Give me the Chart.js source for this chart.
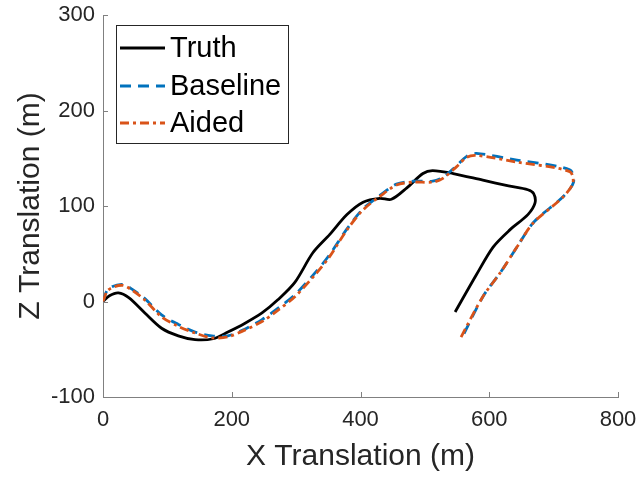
<!DOCTYPE html>
<html>
<head>
<meta charset="utf-8">
<script src="https://cdn.jsdelivr.net/npm/chart.js@4.4.1/dist/chart.umd.min.js"></script>
<style>
  html, body { margin: 0; padding: 0; background: #fff; }
  #wrap { width: 640px; height: 477px; }
</style>
</head>
<body>
<div id="wrap"><canvas id="traj"></canvas></div>
<script>
// Trajectories (metres)
const truthX = [0, 10, 24, 40, 65, 91, 117, 143, 171, 194, 220, 247, 272, 298, 326, 352, 379, 404, 430, 448, 472, 497, 512, 544, 590, 630, 660, 669, 671, 660, 632, 606, 580, 547];
const truthZ = [0, 6, 9, 4, -12, -28, -36, -40, -39, -32, -23, -12, 2, 20, 51, 70, 91, 104, 108, 107, 119, 134, 137, 134, 127, 121, 117, 113, 103, 91, 75, 57, 28, -11];

const baseX = [0, 8, 29, 45, 65, 91, 117, 143, 169, 194, 220, 247, 272, 298, 332, 352, 379, 404, 430, 456, 482, 512, 528, 549, 565, 580, 643, 725, 731, 715, 669, 644, 618, 591, 556];
const baseZ = [0, 13, 18, 13, 3, -14, -24, -32, -36, -36, -29, -19, -7, 7, 32, 49, 76, 97, 111, 123, 126, 126, 130, 142, 152, 155, 148, 138, 125, 110, 83, 58, 31, 6, -40];

const aidedX = [0, 8, 29, 45, 65, 91, 117, 143, 169, 194, 220, 247, 272, 298, 332, 352, 379, 404, 430, 456, 482, 512, 528, 549, 565, 580, 643, 725, 730, 714, 668, 643, 617, 590, 554];
const aidedZ = [0, 12, 17, 12, 1.5, -16, -26, -33, -38, -37, -30, -21, -9, 5, 30, 47, 75, 96, 110, 122, 125, 125, 129, 141, 151, 153, 146, 136, 124, 109, 82, 57, 30, 5, -40];

const xTicks = [0, 200, 400, 600, 800];
const zTicks = [-100, 0, 100, 200, 300];

function toPoints(xs, ys) {
  return xs.map((x, i) => ({ x: x, y: ys[i] }));
}

// MATLAB style ticks pointing into the plot
const innerTicks = {
  id: 'innerTicks',
  afterDraw(chart) {
    const ctx = chart.ctx;
    const xs = chart.scales.x, ys = chart.scales.y;
    ctx.save();
    ctx.strokeStyle = '#808080';
    ctx.lineWidth = 1;
    ctx.beginPath();
    xTicks.forEach(v => {
      const px = Math.round(xs.getPixelForValue(v)) + 0.5;
      ctx.moveTo(px, ys.bottom);
      ctx.lineTo(px, ys.bottom - 5);
    });
    zTicks.forEach(v => {
      const py = Math.round(ys.getPixelForValue(v)) + 0.5;
      ctx.moveTo(xs.left, py);
      ctx.lineTo(xs.left + 5, py);
    });
    ctx.stroke();
    ctx.restore();
  }
};

// legend box in the top left corner
const boxLegend = {
  id: 'boxLegend',
  afterDraw(chart) {
    const ctx = chart.ctx;
    const left = 116, top = 25, w = 172, h = 118;
    ctx.save();
    ctx.fillStyle = '#fff';
    ctx.fillRect(left, top, w, h);
    ctx.strokeStyle = '#262626';
    ctx.lineWidth = 1;
    ctx.strokeRect(left + 0.5, top + 0.5, w, h);
    ctx.font = '29px "Liberation Sans", Arial, sans-serif';
    ctx.textBaseline = 'middle';
    const rows = [48, 86, 123];
    chart.data.datasets.forEach((ds, i) => {
      const y = top + (rows[i] - 25);
      ctx.strokeStyle = ds.borderColor;
      ctx.lineWidth = ds.borderWidth;
      ctx.setLineDash(ds.borderDash || []);
      ctx.beginPath();
      ctx.moveTo(left + 4, y);
      ctx.lineTo(left + 49, y);
      ctx.stroke();
      ctx.setLineDash([]);
      ctx.fillStyle = '#000';
      ctx.fillText(ds.label, left + 54, y + 1);
    });
    ctx.restore();
  }
};

const ctx = document.getElementById('traj').getContext('2d');
new Chart(ctx, {
  type: 'scatter',
  data: {
    datasets: [
      {
        label: 'Truth',
        data: toPoints(truthX, truthZ),
        borderColor: '#000000',
        borderWidth: 2.8,
        order: 3
      },
      {
        label: 'Baseline',
        data: toPoints(baseX, baseZ),
        borderColor: '#0072BD',
        borderWidth: 2.8,
        borderDash: [11, 7],
        order: 2
      },
      {
        label: 'Aided',
        data: toPoints(aidedX, aidedZ),
        borderColor: '#D95319',
        borderWidth: 2.8,
        borderDash: [9, 4, 3, 4],
        order: 1
      }
    ]
  },
  options: {
    responsive: true,
    maintainAspectRatio: false,
    animation: false,
    showLine: true,
    elements: {
      point: { radius: 0, hoverRadius: 0 },
      line: { tension: 0.3, fill: false }
    },
    layout: { padding: { left: 0, top: 15, right: 22, bottom: 0 } },
    plugins: {
      legend: { display: false },
      tooltip: { enabled: false }
    },
    scales: {
      x: {
        type: 'linear',
        min: 0,
        max: 800,
        afterBuildTicks: s => { s.ticks = xTicks.map(v => ({ value: v })); },
        afterFit: s => { s.height = 80; s.paddingLeft = 0; s.paddingRight = 0; },
        grid: { display: false, drawTicks: false },
        border: { display: true, color: '#808080', width: 1 },
        ticks: {
          padding: 10,
          color: '#262626',
          font: { family: '"Liberation Sans", Arial, sans-serif', size: 22 },
          maxRotation: 0
        },
        title: {
          display: true,
          text: 'X Translation (m)',
          color: '#262626',
          font: { family: '"Liberation Sans", Arial, sans-serif', size: 30 },
          padding: { top: 0, bottom: 2 }
        }
      },
      y: {
        type: 'linear',
        min: -100,
        max: 300,
        afterBuildTicks: s => { s.ticks = zTicks.map(v => ({ value: v })); },
        afterFit: s => { s.width = 103; s.paddingTop = 0; s.paddingBottom = 0; },
        grid: { display: false, drawTicks: false },
        border: { display: true, color: '#808080', width: 1 },
        ticks: {
          padding: 8,
          color: '#262626',
          font: { family: '"Liberation Sans", Arial, sans-serif', size: 22 }
        },
        title: {
          display: true,
          text: 'Z Translation (m)',
          color: '#262626',
          font: { family: '"Liberation Sans", Arial, sans-serif', size: 30 },
          padding: { top: 13, bottom: 0 }
        }
      }
    }
  },
  plugins: [innerTicks, boxLegend]
});
</script>
</body>
</html>
